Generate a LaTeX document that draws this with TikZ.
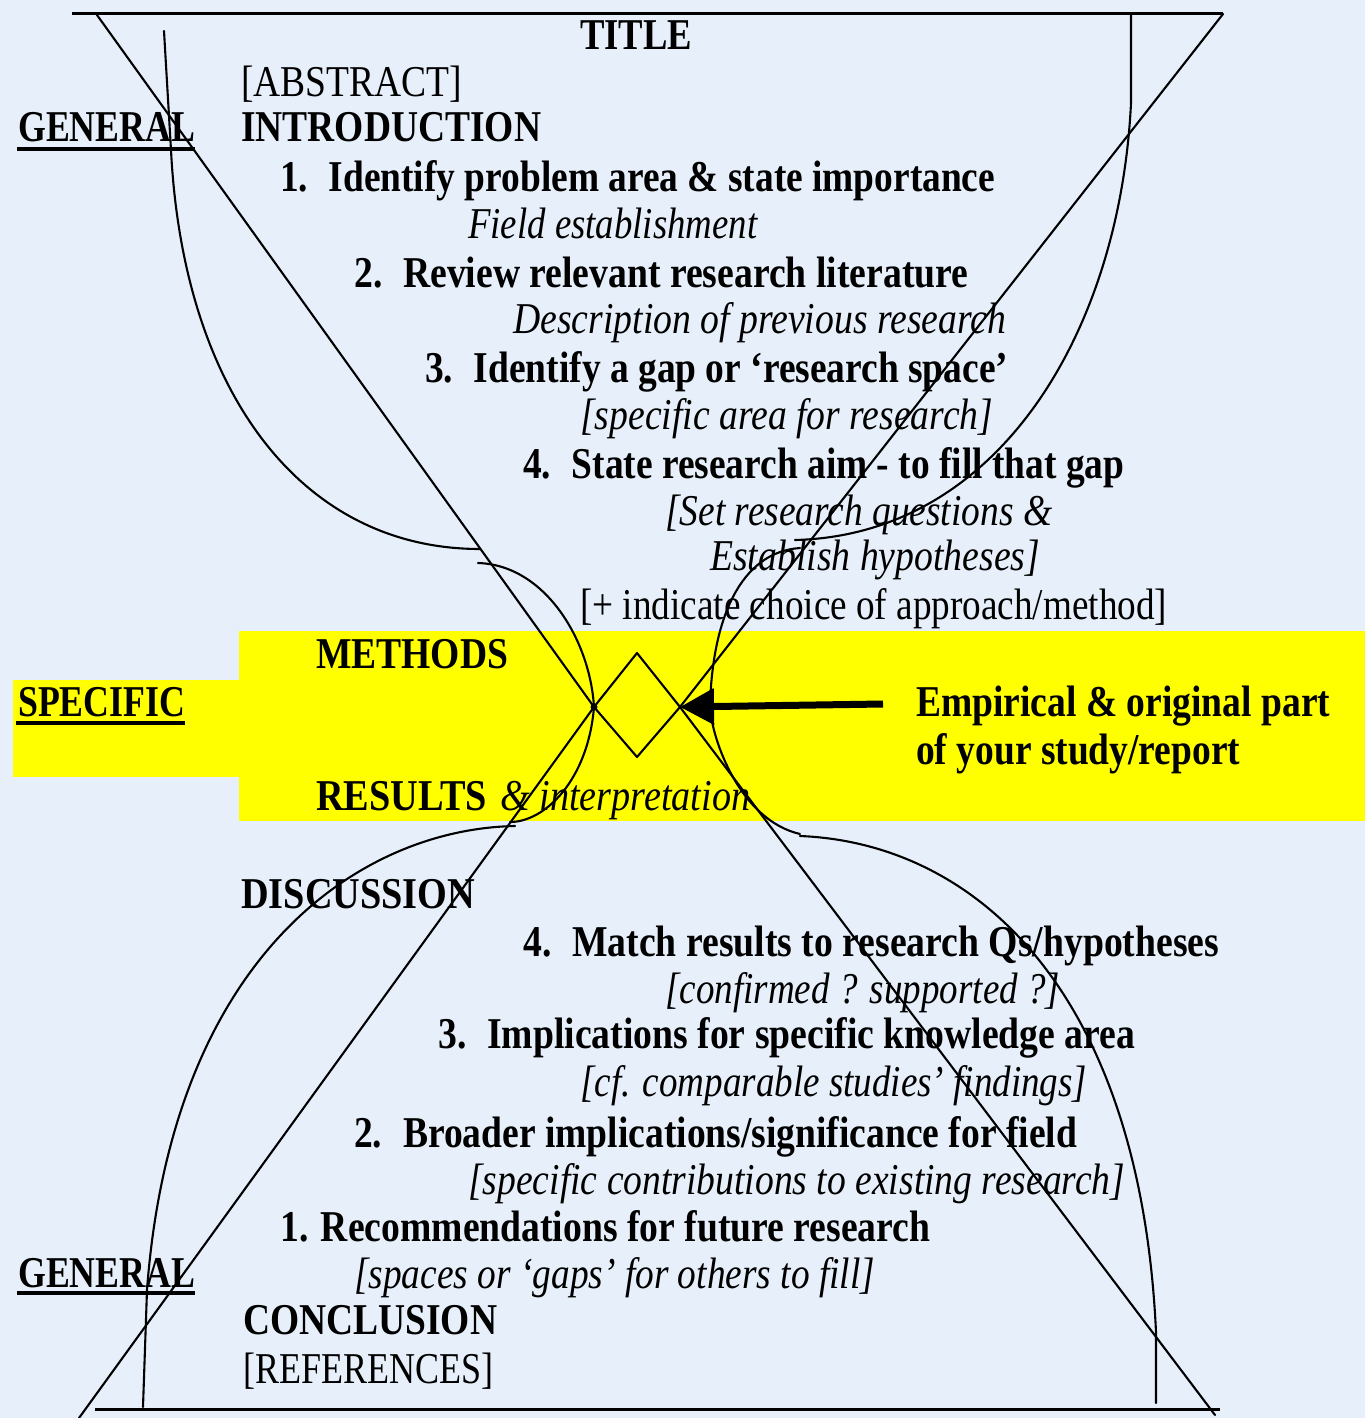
\documentclass[tikz,border=0pt]{standalone}
\usepackage{graphicx}
\usepackage{fontspec}
\setmainfont{Liberation Serif}
\usetikzlibrary{arrows.meta}
\definecolor{bgblue}{RGB}{231,240,250}
\definecolor{hlyellow}{RGB}{255,255,0}
\newcommand{\tw}[2]{\resizebox{#1pt}{\height}{#2}}
\tikzset{
  txt/.style={anchor=base west, inner sep=0pt, font=\fontsize{44}{48}\selectfont},
  thinline/.style={line width=2.1pt, line cap=round, line join=round},
  frameline/.style={line width=3pt},
  ulbar/.style={line width=3.5pt},
}
\begin{document}
\begin{tikzpicture}[x=1pt,y=-1pt]
\useasboundingbox (0,0) rectangle (1365,1418);
\fill[bgblue] (0,0) rectangle (1365,1418);
% yellow band
\fill[hlyellow] (239,631) rectangle (1365,821);
\fill[hlyellow] (13,680) rectangle (239,777);

% key points
\coordinate (L) at (594,707);
\coordinate (R) at (680,707);
\coordinate (T) at (637,653);
\coordinate (B) at (637,757);
\coordinate (tl) at (97,15);
\coordinate (tr) at (1223,14);
\coordinate (bl) at (79,1418);
\coordinate (br) at (1215,1415);
\coordinate (topA) at (72,14);
\coordinate (topB) at (1223,14);
\coordinate (botA) at (95,1409);
\coordinate (botB) at (1220,1409);
\coordinate (arrS) at (883,704);

% frame lines
\draw[frameline] (topA) -- (topB);
\draw[frameline] (botA) -- (botB);

% straight diagonals
\draw[thinline] (tl) -- (L) -- (bl);
\draw[thinline] (tr) -- (R) -- (br);

% curves upper-left
\draw[thinline] (164,31) -- (171,150) .. controls (183,390) and (300,549) .. (480,549);
\draw[thinline] (478,563) .. controls (545,565) and (590,640) .. (L);
% lower-left
\draw[thinline] (L) .. controls (588,780) and (545,822) .. (510,822);
\draw[thinline] (515,826) .. controls (360,829) and (172,955) .. (147,1290) -- (143,1407);
% upper-right
\draw[thinline] (1131,14) -- (1131,103) .. controls (1120,330) and (1000,535) .. (795,540);
\draw[thinline] (800,548) .. controls (740,552) and (712,620) .. (710,707);
% lower-right
\draw[thinline] (710,707) .. controls (712,740) and (740,820) .. (800,834);
\draw[thinline] (800,836) .. controls (975,843) and (1140,990) .. (1156,1332) -- (1156,1403);

% diamond
\draw[thinline] (L) -- (T) -- (R) -- (B) -- cycle;
\fill (L) circle (3.5pt);

% arrow
\draw[line width=7pt, -{Triangle[length=34pt,width=35pt]}] (arrS) -- (R);

% texts
\node[txt] (title) at (580,50) {\tw{112}{\bfseries TITLE}};
\node[txt] (abs) at (241,97) {\tw{221}{[ABSTRACT]}};
\node[txt] (gen1) at (18,142) {\tw{177}{\bfseries GENERAL}};
\node[txt] (intro) at (241,142) {\tw{300}{\bfseries INTRODUCTION}};
\node[txt] (i1) at (280,191) {\tw{715}{\bfseries 1.\hspace{0.55em}Identify problem area \& state importance}};
\node[txt] (i1s) at (468,238) {\tw{289}{\itshape Field establishment}};
\node[txt] (i2) at (354,287) {\tw{614}{\bfseries 2.\hspace{0.55em}Review relevant research literature}};
\node[txt] (i2s) at (513,333) {\tw{493}{\itshape Description of previous research}};
\node[txt] (i3) at (425,382) {\tw{583}{\bfseries 3.\hspace{0.55em}Identify a gap or ‘research space’}};
\node[txt] (i3s) at (580,429) {\tw{413}{\itshape [specific area for research]}};
\node[txt] (i4) at (523,478) {\tw{601}{\bfseries 4.\hspace{0.55em}State research aim - to fill that gap}};
\node[txt] (i4s) at (665,525) {\tw{387}{\itshape [Set research questions \&}};
\node[txt] (i4t) at (710,570) {\tw{330}{\itshape Establish hypotheses]}};
\node[txt] (i4u) at (580,619) {\tw{587}{[+ indicate choice of approach/method]}};
\node[txt] (meth) at (316,668) {\tw{192}{\bfseries METHODS}};
\node[txt] (spec) at (18,716) {\tw{167}{\bfseries SPECIFIC}};
\node[txt] (emp1) at (916,716) {\tw{414}{\bfseries Empirical \& original part}};
\node[txt] (emp2) at (916,764) {\tw{324}{\bfseries of your study/report}};
\node[txt] (res) at (316,810) {\tw{171}{\bfseries RESULTS}};
\node[txt] (resi) at (500,810) {\tw{250}{\itshape \& interpretation}};
\node[txt] (disc) at (241,908) {\tw{234}{\bfseries DISCUSSION}};
\node[txt] (d4) at (523,956) {\tw{696}{\bfseries 4.\hspace{0.55em}Match results to research Qs/hypotheses}};
\node[txt] (d4s) at (665,1003) {\tw{395}{\itshape [confirmed ? supported ?]}};
\node[txt] (d3) at (438,1048) {\tw{697}{\bfseries 3.\hspace{0.55em}Implications for specific knowledge area}};
\node[txt] (d3s) at (580,1096) {\tw{507}{\itshape [cf. comparable studies’ findings]}};
\node[txt] (d2) at (354,1147) {\tw{723}{\bfseries 2.\hspace{0.55em}Broader implications/significance for field}};
\node[txt] (d2s) at (468,1194) {\tw{657}{\itshape [specific contributions to existing research]}};
\node[txt] (d1) at (280,1241) {\tw{650}{\bfseries 1. Recommendations for future research}};
\node[txt] (gen2) at (18,1287) {\tw{177}{\bfseries GENERAL}};
\node[txt] (d1s) at (354,1288) {\tw{521}{\itshape [spaces or ‘gaps’ for others to fill]}};
\node[txt] (conc) at (243,1334) {\tw{254}{\bfseries CONCLUSION}};
\node[txt] (refs) at (243,1383) {\tw{250}{[REFERENCES]}};

% underlines
\draw[ulbar] ([xshift=-1pt,yshift=-7pt]gen1.base west) -- ([yshift=-7pt]gen1.base east);
\draw[ulbar] ([xshift=-2pt,yshift=-7pt]spec.base west) -- ([yshift=-7pt]spec.base east);
\draw[ulbar] ([xshift=-1pt,yshift=-6pt]gen2.base west) -- ([yshift=-6pt]gen2.base east);
\end{tikzpicture}
\end{document}
